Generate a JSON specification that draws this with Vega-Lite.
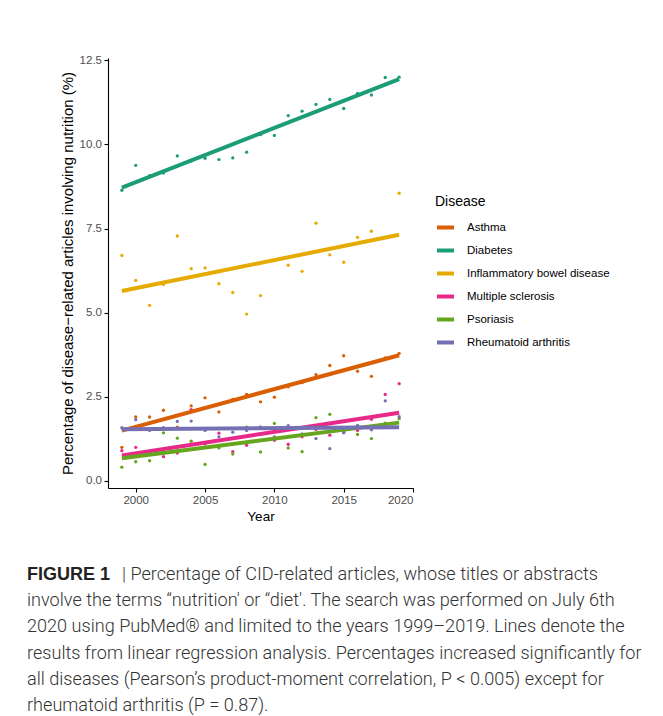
{
  "$schema": "https://vega.github.io/schema/vega-lite/v6.json",
  "background": "white",
  "padding": {"left": 27, "top": 54, "right": 0, "bottom": 0},
  "datasets": {
    "articles": [
      {"year": 1999, "disease": "Asthma", "share": 1.00},
      {"year": 2000, "disease": "Asthma", "share": 1.90},
      {"year": 2001, "disease": "Asthma", "share": 1.90},
      {"year": 2002, "disease": "Asthma", "share": 2.10},
      {"year": 2003, "disease": "Asthma", "share": 1.60},
      {"year": 2004, "disease": "Asthma", "share": 2.23},
      {"year": 2005, "disease": "Asthma", "share": 2.47},
      {"year": 2006, "disease": "Asthma", "share": 2.05},
      {"year": 2007, "disease": "Asthma", "share": 2.42},
      {"year": 2008, "disease": "Asthma", "share": 2.57},
      {"year": 2009, "disease": "Asthma", "share": 2.35},
      {"year": 2010, "disease": "Asthma", "share": 2.49},
      {"year": 2011, "disease": "Asthma", "share": 2.80},
      {"year": 2012, "disease": "Asthma", "share": 2.92},
      {"year": 2013, "disease": "Asthma", "share": 3.16},
      {"year": 2014, "disease": "Asthma", "share": 3.43},
      {"year": 2015, "disease": "Asthma", "share": 3.72},
      {"year": 2016, "disease": "Asthma", "share": 3.26},
      {"year": 2017, "disease": "Asthma", "share": 3.11},
      {"year": 2018, "disease": "Asthma", "share": 3.66},
      {"year": 2019, "disease": "Asthma", "share": 3.79},
      {"year": 1999, "disease": "Diabetes", "share": 8.64},
      {"year": 2000, "disease": "Diabetes", "share": 9.38},
      {"year": 2001, "disease": "Diabetes", "share": 9.07},
      {"year": 2002, "disease": "Diabetes", "share": 9.15},
      {"year": 2003, "disease": "Diabetes", "share": 9.66},
      {"year": 2004, "disease": "Diabetes", "share": 9.51},
      {"year": 2005, "disease": "Diabetes", "share": 9.59},
      {"year": 2006, "disease": "Diabetes", "share": 9.55},
      {"year": 2007, "disease": "Diabetes", "share": 9.60},
      {"year": 2008, "disease": "Diabetes", "share": 9.77},
      {"year": 2009, "disease": "Diabetes", "share": 10.29},
      {"year": 2010, "disease": "Diabetes", "share": 10.27},
      {"year": 2011, "disease": "Diabetes", "share": 10.86},
      {"year": 2012, "disease": "Diabetes", "share": 10.99},
      {"year": 2013, "disease": "Diabetes", "share": 11.19},
      {"year": 2014, "disease": "Diabetes", "share": 11.34},
      {"year": 2015, "disease": "Diabetes", "share": 11.07},
      {"year": 2016, "disease": "Diabetes", "share": 11.52},
      {"year": 2017, "disease": "Diabetes", "share": 11.47},
      {"year": 2018, "disease": "Diabetes", "share": 11.99},
      {"year": 2019, "disease": "Diabetes", "share": 12.00},
      {"year": 1999, "disease": "Inflammatory bowel disease", "share": 6.70},
      {"year": 2000, "disease": "Inflammatory bowel disease", "share": 5.96},
      {"year": 2001, "disease": "Inflammatory bowel disease", "share": 5.22},
      {"year": 2002, "disease": "Inflammatory bowel disease", "share": 5.84},
      {"year": 2003, "disease": "Inflammatory bowel disease", "share": 7.28},
      {"year": 2004, "disease": "Inflammatory bowel disease", "share": 6.31},
      {"year": 2005, "disease": "Inflammatory bowel disease", "share": 6.33},
      {"year": 2006, "disease": "Inflammatory bowel disease", "share": 5.86},
      {"year": 2007, "disease": "Inflammatory bowel disease", "share": 5.60},
      {"year": 2008, "disease": "Inflammatory bowel disease", "share": 4.96},
      {"year": 2009, "disease": "Inflammatory bowel disease", "share": 5.51},
      {"year": 2010, "disease": "Inflammatory bowel disease", "share": 6.55},
      {"year": 2011, "disease": "Inflammatory bowel disease", "share": 6.41},
      {"year": 2012, "disease": "Inflammatory bowel disease", "share": 6.23},
      {"year": 2013, "disease": "Inflammatory bowel disease", "share": 7.66},
      {"year": 2014, "disease": "Inflammatory bowel disease", "share": 6.72},
      {"year": 2015, "disease": "Inflammatory bowel disease", "share": 6.50},
      {"year": 2016, "disease": "Inflammatory bowel disease", "share": 7.24},
      {"year": 2017, "disease": "Inflammatory bowel disease", "share": 7.42},
      {"year": 2018, "disease": "Inflammatory bowel disease", "share": 7.23},
      {"year": 2019, "disease": "Inflammatory bowel disease", "share": 8.55},
      {"year": 1999, "disease": "Multiple sclerosis", "share": 0.90},
      {"year": 2000, "disease": "Multiple sclerosis", "share": 1.00},
      {"year": 2001, "disease": "Multiple sclerosis", "share": 0.88},
      {"year": 2002, "disease": "Multiple sclerosis", "share": 0.72},
      {"year": 2003, "disease": "Multiple sclerosis", "share": 0.83},
      {"year": 2004, "disease": "Multiple sclerosis", "share": 2.12},
      {"year": 2005, "disease": "Multiple sclerosis", "share": 1.10},
      {"year": 2006, "disease": "Multiple sclerosis", "share": 1.42},
      {"year": 2007, "disease": "Multiple sclerosis", "share": 0.87},
      {"year": 2008, "disease": "Multiple sclerosis", "share": 1.06},
      {"year": 2009, "disease": "Multiple sclerosis", "share": 1.60},
      {"year": 2010, "disease": "Multiple sclerosis", "share": 1.21},
      {"year": 2011, "disease": "Multiple sclerosis", "share": 1.09},
      {"year": 2012, "disease": "Multiple sclerosis", "share": 1.31},
      {"year": 2013, "disease": "Multiple sclerosis", "share": 1.53},
      {"year": 2014, "disease": "Multiple sclerosis", "share": 1.36},
      {"year": 2015, "disease": "Multiple sclerosis", "share": 1.45},
      {"year": 2016, "disease": "Multiple sclerosis", "share": 1.50},
      {"year": 2017, "disease": "Multiple sclerosis", "share": 1.83},
      {"year": 2018, "disease": "Multiple sclerosis", "share": 2.57},
      {"year": 2019, "disease": "Multiple sclerosis", "share": 2.89},
      {"year": 1999, "disease": "Psoriasis", "share": 0.41},
      {"year": 2000, "disease": "Psoriasis", "share": 0.57},
      {"year": 2001, "disease": "Psoriasis", "share": 0.60},
      {"year": 2002, "disease": "Psoriasis", "share": 1.43},
      {"year": 2003, "disease": "Psoriasis", "share": 1.27},
      {"year": 2004, "disease": "Psoriasis", "share": 1.18},
      {"year": 2005, "disease": "Psoriasis", "share": 0.49},
      {"year": 2006, "disease": "Psoriasis", "share": 0.98},
      {"year": 2007, "disease": "Psoriasis", "share": 0.80},
      {"year": 2008, "disease": "Psoriasis", "share": 1.60},
      {"year": 2009, "disease": "Psoriasis", "share": 0.86},
      {"year": 2010, "disease": "Psoriasis", "share": 1.71},
      {"year": 2011, "disease": "Psoriasis", "share": 0.98},
      {"year": 2012, "disease": "Psoriasis", "share": 0.87},
      {"year": 2013, "disease": "Psoriasis", "share": 1.88},
      {"year": 2014, "disease": "Psoriasis", "share": 1.98},
      {"year": 2015, "disease": "Psoriasis", "share": 1.48},
      {"year": 2016, "disease": "Psoriasis", "share": 1.38},
      {"year": 2017, "disease": "Psoriasis", "share": 1.26},
      {"year": 2018, "disease": "Psoriasis", "share": 1.72},
      {"year": 2019, "disease": "Psoriasis", "share": 1.85},
      {"year": 1999, "disease": "Rheumatoid arthritis", "share": 1.58},
      {"year": 2000, "disease": "Rheumatoid arthritis", "share": 1.82},
      {"year": 2001, "disease": "Rheumatoid arthritis", "share": 1.50},
      {"year": 2002, "disease": "Rheumatoid arthritis", "share": 1.58},
      {"year": 2003, "disease": "Rheumatoid arthritis", "share": 1.77},
      {"year": 2004, "disease": "Rheumatoid arthritis", "share": 1.78},
      {"year": 2005, "disease": "Rheumatoid arthritis", "share": 1.50},
      {"year": 2006, "disease": "Rheumatoid arthritis", "share": 1.31},
      {"year": 2007, "disease": "Rheumatoid arthritis", "share": 1.45},
      {"year": 2008, "disease": "Rheumatoid arthritis", "share": 1.50},
      {"year": 2009, "disease": "Rheumatoid arthritis", "share": 1.60},
      {"year": 2010, "disease": "Rheumatoid arthritis", "share": 1.31},
      {"year": 2011, "disease": "Rheumatoid arthritis", "share": 1.64},
      {"year": 2012, "disease": "Rheumatoid arthritis", "share": 1.40},
      {"year": 2013, "disease": "Rheumatoid arthritis", "share": 1.26},
      {"year": 2014, "disease": "Rheumatoid arthritis", "share": 0.96},
      {"year": 2015, "disease": "Rheumatoid arthritis", "share": 1.43},
      {"year": 2016, "disease": "Rheumatoid arthritis", "share": 1.65},
      {"year": 2017, "disease": "Rheumatoid arthritis", "share": 1.52},
      {"year": 2018, "disease": "Rheumatoid arthritis", "share": 2.38},
      {"year": 2019, "disease": "Rheumatoid arthritis", "share": 1.91}
    ],
    "caption": [
      {"line": 1, "lead": "FIGURE 1", "text": "| Percentage of CID-related articles, whose titles or abstracts"},
      {"line": 2, "lead": "", "text": "involve the terms “nutrition' or “diet'. The search was performed on July 6th"},
      {"line": 3, "lead": "", "text": "2020 using PubMed® and limited to the years 1999–2019. Lines denote the"},
      {"line": 4, "lead": "", "text": "results from linear regression analysis. Percentages increased significantly for"},
      {"line": 5, "lead": "", "text": "all diseases (Pearson’s product-moment correlation, P < 0.005) except for"},
      {"line": 6, "lead": "", "text": "rheumatoid arthritis (P = 0.87)."}
    ]
  },
  "spacing": 39,
  "vconcat": [
    {
      "width": 305,
      "height": 430,
      "data": {"name": "articles"},
      "encoding": {
        "x": {
          "field": "year",
          "type": "quantitative",
          "title": "Year",
          "scale": {"domain": [1998, 2020], "nice": false, "zero": false},
          "axis": {"values": [2000, 2005, 2010, 2015, 2020], "format": "d", "titlePadding": 3, "titleFontSize": 13.5}
        },
        "y": {
          "field": "share",
          "type": "quantitative",
          "title": "Percentage of disease−related articles involving nutrition (%)",
          "scale": {"domain": [-0.21, 12.57], "nice": false, "zero": false},
          "axis": {"values": [0, 2.5, 5, 7.5, 10, 12.5], "format": ".1f", "titlePadding": 4, "titleFontSize": 15}
        },
        "color": {
          "field": "disease",
          "type": "nominal",
          "scale": {
            "domain": ["Asthma", "Diabetes", "Inflammatory bowel disease", "Multiple sclerosis", "Psoriasis", "Rheumatoid arthritis"],
            "range": ["#D95F02", "#1B9E77", "#E6AB02", "#E7298A", "#66A61E", "#7570B3"]
          },
          "legend": {
            "title": "Disease",
            "orient": "none",
            "legendX": 327,
            "legendY": 137,
            "symbolType": "stroke",
            "symbolStrokeWidth": 4,
            "symbolSize": 289,
            "symbolOpacity": 1,
            "titleFontSize": 14,
            "titleFontWeight": "normal",
            "titleColor": "black",
            "titlePadding": 8,
            "labelFontSize": 11.5,
            "labelColor": "black",
            "labelOffset": 11,
            "rowPadding": 4
          }
        }
      },
      "layer": [
        {"mark": {"type": "circle", "size": 11, "opacity": 1}},
        {
          "transform": [{"regression": "share", "on": "year", "groupby": ["disease"]}],
          "mark": {"type": "line", "strokeWidth": 4, "strokeCap": "butt"}
        }
      ]
    },
    {
      "width": 305,
      "height": 157,
      "data": {"name": "caption"},
      "encoding": {
        "y": {"field": "line", "type": "ordinal", "axis": null, "scale": {"paddingInner": 0, "paddingOuter": 0}},
        "x": {"value": 0}
      },
      "layer": [
        {
          "mark": {"type": "text", "align": "left", "baseline": "middle", "dx": -81, "font": "Liberation Sans", "fontWeight": "bold", "fontSize": 18, "color": "#222222"},
          "encoding": {"text": {"field": "lead"}}
        },
        {
          "transform": [{"filter": "datum.line == 1"}],
          "mark": {"type": "text", "align": "left", "baseline": "middle", "dx": 14, "font": "Roboto", "fontSize": 18.1, "fontWeight": 300, "color": "#333333"},
          "encoding": {"text": {"field": "text"}}
        },
        {
          "transform": [{"filter": "datum.line > 1"}],
          "mark": {"type": "text", "align": "left", "baseline": "middle", "dx": -81, "font": "Roboto", "fontSize": 18.1, "fontWeight": 300, "color": "#333333"},
          "encoding": {"text": {"field": "text"}}
        }
      ]
    }
  ],
  "config": {
    "font": "Liberation Sans",
    "view": {"stroke": null},
    "axis": {
      "grid": false,
      "domainColor": "black",
      "domainWidth": 1.1,
      "tickColor": "black",
      "tickWidth": 1.1,
      "tickSize": 4,
      "labelColor": "#4D4D4D",
      "labelFontSize": 11.5,
      "labelPadding": 2.5,
      "titleColor": "black",
      "titleFontWeight": "normal"
    }
  }
}
